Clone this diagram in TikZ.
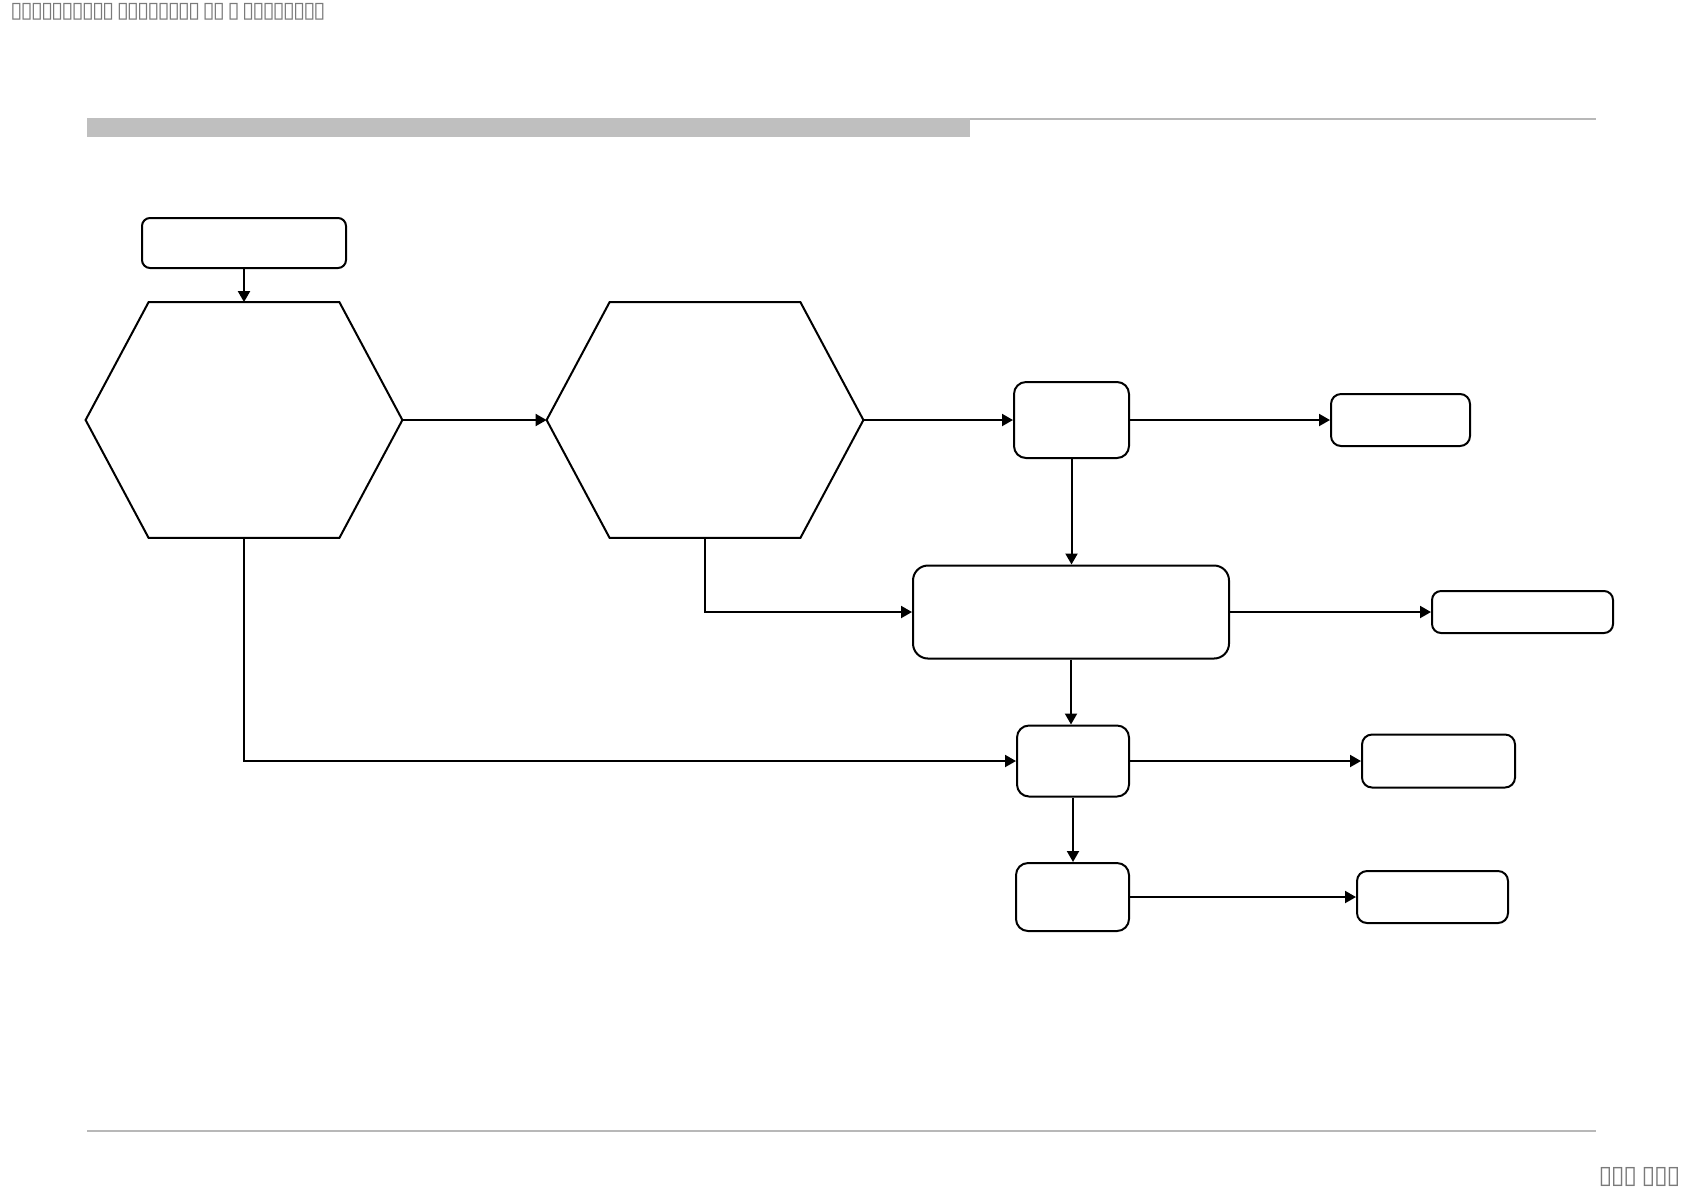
\documentclass[tikz,border=0pt]{standalone}
\usepackage{fontspec}
\newfontfamily\tofufont{DejaVu Sans}
\usetikzlibrary{arrows.meta,calc}
\definecolor{bargray}{HTML}{BFBFBF}
\definecolor{rulegray}{HTML}{B8B8B8}
\definecolor{txtgray}{HTML}{7A7A7A}
\newcommand\tfa{\makebox[5.1pt][c]{▯}}
\newcommand\tfb{\makebox[6.2pt][c]{▯}}
\tikzset{
  rbox/.style={draw, line width=1pt, rounded corners=5pt, inner sep=0pt, fill=white},
  hexbox/.style={draw=none, inner sep=0pt, minimum width=158pt, minimum height=117.5pt},
  hexline/.style={line width=1pt, line join=miter},
  conn/.style={line width=1pt, -{Triangle[length=5.5pt,width=6pt]}},
  tofu/.style={inner sep=0pt, text=txtgray, font=\tofufont\fontsize{11}{11}\selectfont},
}
\begin{document}
\begin{tikzpicture}[x=0.5pt, y=-0.5pt]
\useasboundingbox (0,0) rectangle (1684,1191);
% header and footer
\fill[bargray] (87,118) rectangle (970,137);
\draw[rulegray, line width=0.8pt] (970,119) -- (1596,119);
\draw[rulegray, line width=0.6pt] (87,1131) -- (1596,1131);
\node[tofu, anchor=west] (title) at (11,12) {\tfa\tfa\tfa\tfa\tfa\tfa\tfa\tfa\tfa\tfa\hspace{2.2pt}\tfa\tfa\tfa\tfa\tfa\tfa\tfa\tfa\hspace{2.2pt}\tfa\tfa\hspace{2.2pt}\tfa\hspace{2.2pt}\tfa\tfa\tfa\tfa\tfa\tfa\tfa\tfa};
\node[tofu, anchor=east, font=\tofufont\fontsize{12.5}{12.5}\selectfont] (page) at (1680,1177) {\tfb\tfb\tfb\hspace{3pt}\tfb\tfb\tfb};
% nodes
\node[rbox, rounded corners=4pt, minimum width=102pt, minimum height=25pt] (start) at (244,243) {};
\node[hexbox] (h1) at (244,420) {};
\node[hexbox] (h2) at (705,420) {};
\node[rbox, rounded corners=6pt, minimum width=57.5pt, minimum height=38pt] (A) at (1071.5,420) {};
\node[rbox, minimum width=69.5pt, minimum height=26pt] (Ar) at (1400.5,420) {};
\node[rbox, rounded corners=7.5pt, minimum width=158pt, minimum height=46.5pt] (B) at (1071,612) {};
\node[rbox, rounded corners=4.5pt, minimum width=90.5pt, minimum height=21pt] (Br) at (1522.5,612) {};
\node[rbox, rounded corners=6pt, minimum width=56pt, minimum height=35.5pt] (C) at (1073,761) {};
\node[rbox, minimum width=76.5pt, minimum height=26.5pt] (Cr) at (1438.5,761) {};
\node[rbox, rounded corners=6pt, minimum width=56.5pt, minimum height=34pt] (D) at (1072.5,897) {};
\node[rbox, minimum width=75.5pt, minimum height=26pt] (Dr) at (1432.5,897) {};
% hexagons
\draw[hexline] (h1.west) -- ($(h1.north west)+(63,0)$) -- ($(h1.north east)+(-63,0)$) -- (h1.east) -- ($(h1.south east)+(-63,0)$) -- ($(h1.south west)+(63,0)$) -- cycle;
\draw[hexline] (h2.west) -- ($(h2.north west)+(63,0)$) -- ($(h2.north east)+(-63,0)$) -- (h2.east) -- ($(h2.south east)+(-63,0)$) -- ($(h2.south west)+(63,0)$) -- cycle;
% connectors
\draw[conn] (start.south) -- (h1.north);
\draw[conn] (h1.east) -- (h2.west);
\draw[conn] (h2.east) -- (A.west);
\draw[conn] (A.east) -- (Ar.west);
\draw[conn] (A.south) -- (A.south |- B.north);
\draw[conn] (h2.south) |- (B.west);
\draw[conn] (B.east) -- (Br.west);
\draw[conn] (B.south) -- (B.south |- C.north);
\draw[conn] (h1.south) |- (C.west);
\draw[conn] (C.east) -- (Cr.west);
\draw[conn] (C.south) -- (C.south |- D.north);
\draw[conn] (D.east) -- (Dr.west);
\end{tikzpicture}
\end{document}
